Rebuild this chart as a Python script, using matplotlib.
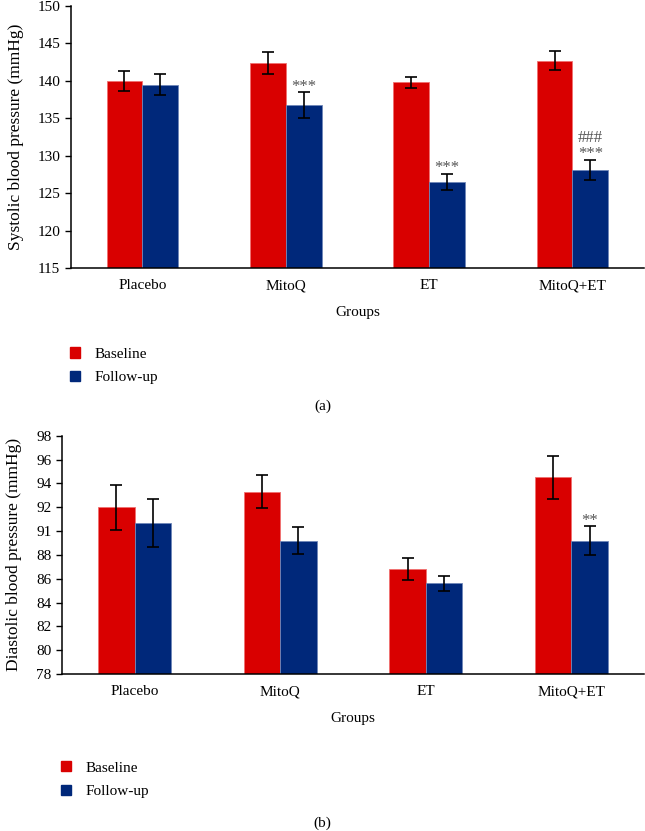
import matplotlib.pyplot as plt
import numpy as np
from matplotlib.patches import Patch

plt.rcParams['font.family'] = ['Liberation Serif', 'DejaVu Serif']
plt.rcParams['font.size'] = 11

groups = ['Placebo', 'MitoQ', 'ET', 'MitoQ+ET']

sbp_base = [140.0, 142.4, 139.8, 142.7]
sbp_base_err = [1.3, 1.45, 0.7, 1.3]
sbp_follow = [139.5, 136.8, 126.5, 128.1]
sbp_follow_err = [1.35, 1.7, 1.1, 1.35]
sbp_marks = [[], ['***'], ['***'], ['***', '###']]

dbp_base = [92.0, 93.3, 86.8, 94.5]
dbp_base_err = [1.9, 1.4, 0.9, 1.8]
dbp_follow = [90.7, 89.2, 85.6, 89.2]
dbp_follow_err = [2.0, 1.1, 0.6, 1.2]
dbp_marks = [[], [], [], ['**']]
dbp_ticks = [78, 80, 82, 84, 86, 88, 90, 92, 94, 96, 98]
dbp_ticklabels = ['78', '80', '82', '84', '86', '88', '91', '92', '94', '96', '98']

RED = '#d90000'
BLUE = '#00287a'
W = 0.25

fig = plt.figure(figsize=(6.45, 8.31), dpi=100)


def panel(ax, base, base_err, follow, follow_err, marks, ylim):
    x = np.arange(len(groups))
    ekw = dict(elinewidth=1.2, capthick=1.2, ecolor='black')
    ax.bar(x - W / 2, base, W, color=RED, edgecolor='#f07070', linewidth=0.6,
           yerr=base_err, capsize=4, error_kw=ekw)
    ax.bar(x + W / 2, follow, W, color=BLUE, edgecolor='#6f86b8', linewidth=0.6,
           yerr=follow_err, capsize=4, error_kw=ekw)
    for i, ms in enumerate(marks):
        for k, m in enumerate(ms):
            ax.annotate(m, xy=(x[i] + W / 2, follow[i] + follow_err[i]),
                        xytext=(0, 4 + 11.5 * k), textcoords='offset points',
                        ha='center', va='center', color='#555555', fontsize=12)
    ax.set_ylim(*ylim)
    ax.set_xlim(-0.5, len(groups) - 0.5)
    ax.set_xticks(x)
    ax.set_xticklabels(groups)
    ax.tick_params(axis='x', length=0, pad=8)
    ax.tick_params(axis='y', length=4, width=1, direction='out')
    for s in ['top', 'right']:
        ax.spines[s].set_visible(False)
    for s in ['left', 'bottom']:
        ax.spines[s].set_linewidth(1.1)
    ax.set_xlabel('Groups', labelpad=10)


ax1 = fig.add_axes([0.1096, 0.6775, 0.889, 0.3153])
panel(ax1, sbp_base, sbp_base_err, sbp_follow, sbp_follow_err, sbp_marks, (115, 150))
ax1.set_yticks(np.arange(115, 151, 5))
ax1.set_ylabel('Systolic blood pressure (mmHg)', labelpad=10, fontsize=12.5)

ax2 = fig.add_axes([0.0957, 0.1889, 0.903, 0.2868])
panel(ax2, dbp_base, dbp_base_err, dbp_follow, dbp_follow_err, dbp_marks, (78, 98))
ax2.set_yticks(dbp_ticks)
ax2.set_yticklabels(dbp_ticklabels)
ax2.set_ylabel('Diastolic blood pressure (mmHg)', labelpad=10, fontsize=12.5)

handles = [Patch(color=RED), Patch(color=BLUE)]
for ypos, xpos in [(0.582, 0.108), (0.084, 0.094)]:
    fig.legend(handles, ['Baseline', 'Follow-up'], loc='upper left', bbox_to_anchor=(xpos, ypos),
               frameon=False, handlelength=0.65, handleheight=0.65, handletextpad=1.0,
               labelspacing=0.65, borderaxespad=0, borderpad=0)

fig.text(0.5, 1 - 406 / 831, '(a)', ha='center', va='center')
fig.text(0.5, 1 - 823 / 831, '(b)', ha='center', va='center')

fig.savefig('out.png', dpi=100)
